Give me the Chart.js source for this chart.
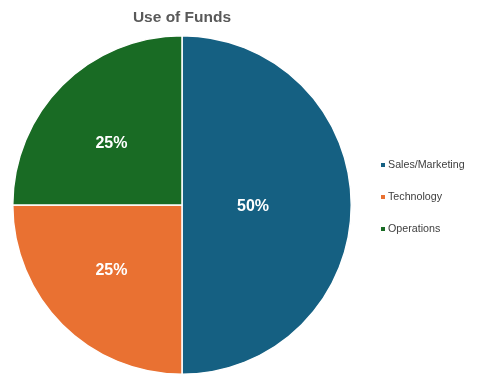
<!DOCTYPE html>
<html>
<head>
<meta charset="utf-8">
<script src="https://cdn.jsdelivr.net/npm/chart.js@4/dist/chart.umd.min.js"></script>
<style>
html,body{margin:0;padding:0;background:#fff;}
#wrap{width:477px;height:384px;position:relative;}
</style>
</head>
<body>
<div id="wrap"><canvas id="c" width="477" height="384"></canvas></div>
<script>
const categories = ["Sales/Marketing", "Technology", "Operations"];
const shares = [50, 25, 25];
const sliceColors = ["#156082", "#E97132", "#196B24"];
const chartTitle = "Use of Funds";

const FONT = "'Liberation Sans', Arial, sans-serif";

const labelPlugin = {
  id: 'sliceLabels',
  afterDatasetsDraw(chart) {
    const ctx = chart.ctx;
    const meta = chart.getDatasetMeta(0);
    ctx.save();
    ctx.fillStyle = '#ffffff';
    ctx.font = 'bold 16px ' + FONT;
    ctx.textAlign = 'center';
    ctx.textBaseline = 'middle';
    meta.data.forEach((arc, i) => {
      const p = arc.getProps(['x','y','startAngle','endAngle','outerRadius'], true);
      const mid = (p.startAngle + p.endAngle) / 2;
      const big = (p.endAngle - p.startAngle) > Math.PI * 0.9;
      const fx = big ? 0.42 : 0.59;
      const fy = big ? 0.42 : 0.53;
      const x = p.x + Math.cos(mid) * p.outerRadius * fx;
      const y = p.y + Math.sin(mid) * p.outerRadius * fy + 2;
      ctx.fillText(chart.data.datasets[0].data[i] + '%', x, y);
    });
    ctx.restore();
  }
};

const legendPlugin = {
  id: 'sideLegend',
  afterDraw(chart) {
    const ctx = chart.ctx;
    ctx.save();
    ctx.font = '10.7px ' + FONT;
    ctx.textBaseline = 'middle';
    ctx.textAlign = 'left';
    chart.data.labels.forEach((lab, i) => {
      const y = 165 + i * 32;
      ctx.fillStyle = chart.data.datasets[0].backgroundColor[i];
      ctx.fillRect(381, y - 2, 4, 4);
      ctx.fillStyle = '#404040';
      ctx.fillText(lab, 388, y);
    });
    ctx.restore();
  }
};

new Chart(document.getElementById('c'), {
  type: 'pie',
  data: {
    labels: categories,
    datasets: [{
      data: shares,
      backgroundColor: sliceColors,
      borderColor: '#ffffff',
      borderWidth: 1.5
    }]
  },
  options: {
    responsive: false,
    animation: false,
    layout: { padding: { left: 12, right: 125, top: 0, bottom: 9 } },
    plugins: {
      legend: { display: false },
      tooltip: { enabled: false },
      title: {
        display: true,
        text: chartTitle,
        fullSize: false,
        color: '#595959',
        font: { family: FONT, size: 15.5, weight: 'bold', lineHeight: 1.2 },
        padding: { top: 8, bottom: 8.4 }
      }
    }
  },
  plugins: [labelPlugin, legendPlugin]
});
</script>
</body>
</html>
